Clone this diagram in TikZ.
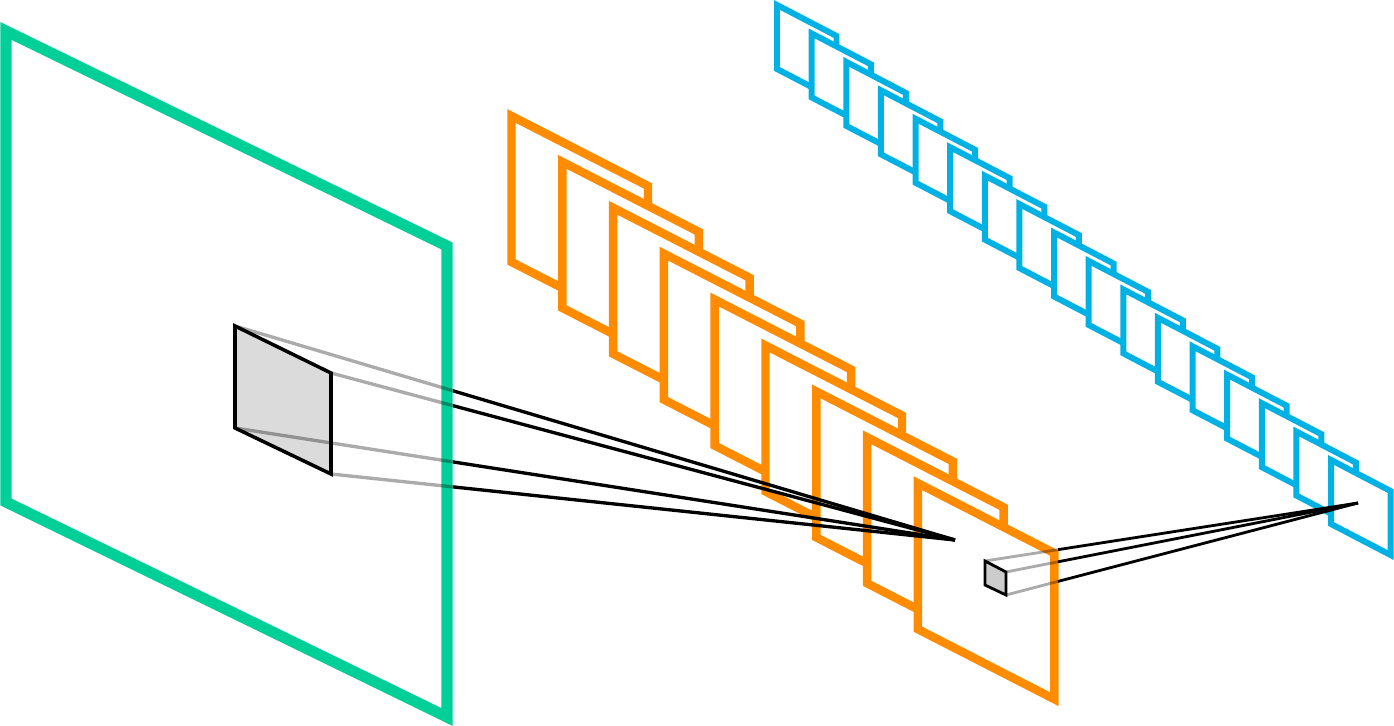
\documentclass[tikz,border=0pt]{standalone}
\usepackage{tikz}
\usepackage{xcolor}
\usetikzlibrary{calc}
\definecolor{inputgreen}{RGB}{0,208,152}
\definecolor{convorange}{RGB}{255,140,0}
\definecolor{poolblue}{RGB}{0,178,228}

\begin{document}
\begin{tikzpicture}[x=0.02cm, y=-0.02cm,
  inmap/.style={draw=inputgreen, line width=6.3pt},
  fmap/.style={draw=convorange, fill=white, line width=4.8pt},
  pmap/.style={draw=poolblue, fill=white, line width=3.4pt},
  field/.style={draw=black, fill=black!14, line width=2pt},
  ray/.style={draw=black, line width=1.9pt},
  faded/.style={ray, draw opacity=0.33}
]
\useasboundingbox (0,0) rectangle (1394,726);

% pooled maps (back to front)
\def\pW{59.5} \def\pR{31} \def\pH{64}
\foreach \i in {0,...,16}{
  \draw[pmap] ({777+\i*34.63},{5+\i*28.44}) -- ++(\pW,\pR) -- ++(0,\pH) -- ++(-\pW,-\pR) -- cycle;
}

% feature maps (back to front)
\def\fW{136.5} \def\fR{70} \def\fH{146}
\foreach \i in {0,...,8}{
  \draw[fmap] ({511.5+\i*50.8},{116+\i*45.9}) -- ++(\fW,\fR) -- ++(0,\fH) -- ++(-\fW,-\fR) -- cycle;
}

% input image
\draw[inmap] (6,31) -- (447,246) -- (447,717) -- (6,502) -- cycle;

% receptive field on the input
\coordinate (in-tl) at (235,326);
\coordinate (in-tr) at (331,373);
\coordinate (in-br) at (331,474);
\coordinate (in-bl) at (235,428);
\coordinate (apex-f) at (955,540);
\draw[field] (in-tl) -- (in-tr) -- (in-br) -- (in-bl) -- cycle;
\begin{scope}
  \clip (0,0) rectangle (453,726);
  \foreach \c in {tl,tr,bl,br} \draw[faded] (in-\c) -- (apex-f);
\end{scope}
\begin{scope}
  \clip (453,0) rectangle (1394,726);
  \foreach \c in {tl,tr,bl,br} \draw[ray] (in-\c) -- (apex-f);
\end{scope}

% receptive field on the last feature map
\coordinate (fm-tl) at (985,561);
\coordinate (fm-tr) at (1006,572);
\coordinate (fm-br) at (1006,595);
\coordinate (fm-bl) at (985,585);
\coordinate (apex-p) at (1358,503);
\draw[field, fill=black!20, line width=1.6pt] (fm-tl) -- (fm-tr) -- (fm-br) -- (fm-bl) -- cycle;
\begin{scope}
  \clip (0,0) rectangle (1058,726);
  \foreach \c in {tl,tr,br} \draw[faded, line width=1.6pt] (fm-\c) -- (apex-p);
\end{scope}
\begin{scope}
  \clip (1058,0) rectangle (1394,726);
  \foreach \c in {tl,tr,br} \draw[ray, line width=1.6pt] (fm-\c) -- (apex-p);
\end{scope}
\end{tikzpicture}
\end{document}
